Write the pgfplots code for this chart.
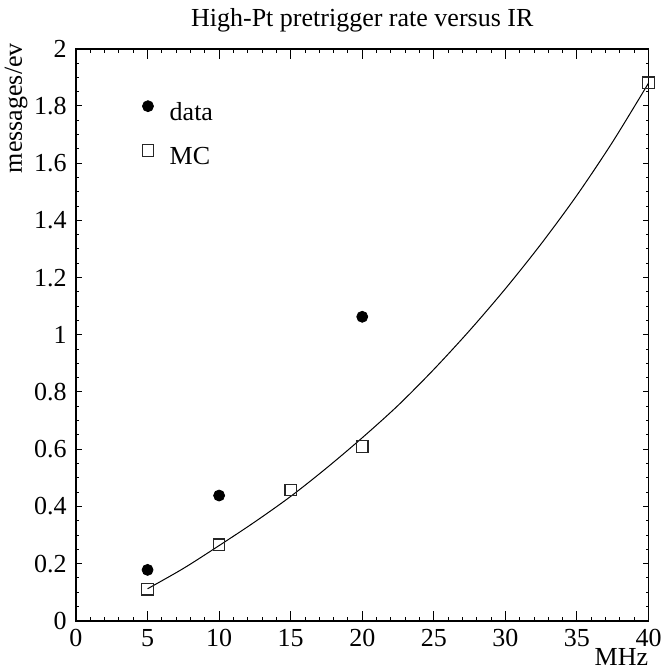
\documentclass[border=0pt]{standalone}
\usepackage{fontspec}
\setmainfont{Liberation Serif}
\usepackage{pgfplots}
\pgfplotsset{compat=1.18}
\newcommand\fs{\fontsize{13pt}{15.6pt}\selectfont}

\begin{document}
\begin{tikzpicture}[font=\fs]
\begin{axis}[
  scale only axis,
  width=286.25pt, height=286pt,
  xmin=0, xmax=40, ymin=0, ymax=2,
  clip=false,
  axis line style={line width=0.75pt},
  xtick={0,5,10,15,20,25,30,35,40},
  ytick={0,0.2,0.4,0.6,0.8,1,1.2,1.4,1.6,1.8,2},
  minor x tick num=4, minor y tick num=3,
  tick align=inside,
  tick style={black, line width=0.5pt},
  xtick style={/pgfplots/major tick length=5pt,/pgfplots/minor tick length=2.1pt},
  ytick style={/pgfplots/major tick length=2.85pt,/pgfplots/minor tick length=1.5pt},
  /pgf/number format/assume math mode=true,
  ticklabel style={font=\fs},
  xticklabel style={inner sep=0pt, yshift=-4pt},
  yticklabel style={inner sep=0pt, xshift=-4.5pt},
  legend cell align=left,
  legend style={draw=none, fill=none, inner sep=0pt, row sep=10.5pt, column sep=8pt,
    nodes={inner sep=0pt}, at={(0.115,0.910)}, anchor=north west, font=\fs},
  legend image code/.code={\draw[#1] plot coordinates {(0pt,3.6pt)};},
]
% fitted curve
\addplot[forget plot, black, line width=0.5pt, smooth] coordinates {
  (5,0.112) (7.5,0.183) (10,0.263) (12.5,0.346) (15,0.435) (17.5,0.534)
  (20,0.640) (22.5,0.753) (25,0.879) (27.5,1.015) (30,1.161) (32.5,1.318)
  (35,1.488) (37.5,1.675) (40,1.88)};
\addplot[only marks, mark=*, mark size=2.75pt, black] coordinates {
  (5,0.178) (10,0.438) (20,1.063)};
\addlegendentry{data}
\addplot[only marks, mark=square, mark size=2.87pt, draw=black!85, mark options={line width=0.6pt}] coordinates {
  (5,0.110) (10,0.266) (15,0.457) (20,0.609) (40,1.881)};
\addlegendentry{MC}

\node[anchor=base, inner sep=0pt, yshift=10.9pt] at (rel axis cs:0.5,1) {High-Pt pretrigger rate versus IR};
\node[anchor=north east, inner sep=0pt, yshift=-13.4pt] at (rel axis cs:1,0) {MHz};
\node[xshift=-27pt, yshift=3pt, rotate=90, anchor=base east, inner sep=0pt] at (rel axis cs:0,1) {messages/ev};
\end{axis}
\pgfresetboundingbox
\path (current axis.south west) ++(-38pt,-24.1pt) rectangle ++(331.5pt,334.5pt);
\end{tikzpicture}
\end{document}
